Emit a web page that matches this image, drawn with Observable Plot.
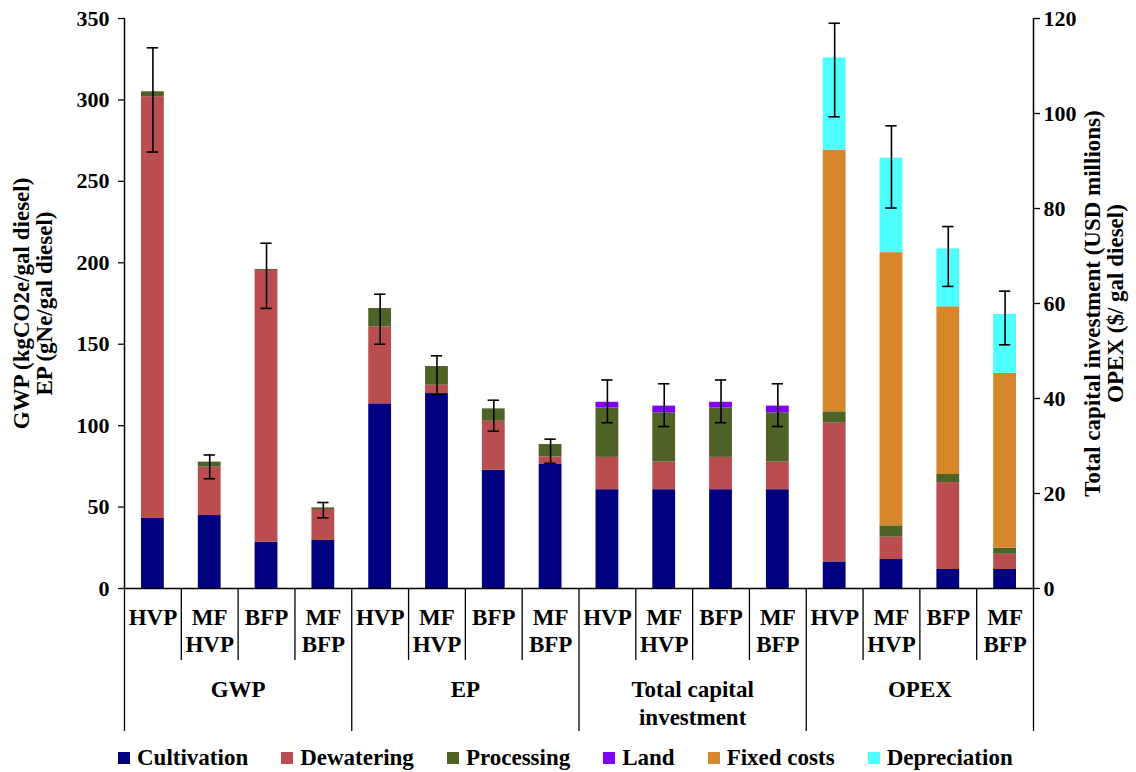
<!DOCTYPE html>
<html>
<head>
<meta charset="utf-8">
<script src="https://cdn.jsdelivr.net/npm/d3@7"></script>
<script src="https://cdn.jsdelivr.net/npm/@observablehq/plot@0.6"></script>
<style>
  html, body { margin: 0; padding: 0; background: #fff; }
  body { width: 1136px; height: 772px; overflow: hidden; font-family: "Liberation Serif", "Times New Roman", serif; }
  #legend { display: flex; align-items: center; gap: 33px; padding-left: 118px; margin-top: 5px; font-weight: bold; font-size: 23px; }
  #legend .item { display: flex; align-items: center; gap: 7px; }
  #legend .sw { width: 12px; height: 12px; display: inline-block; }
</style>
</head>
<body>
<div id="chart"></div>
<div id="legend"></div>
<script>
// Groups (first two read on the left axis, last two on the right axis)
const groups = ["GWP", "EP", "Total capital\ninvestment", "OPEX"];
const groupAxis = ["left", "left", "right", "right"];
const scenarios = ["HVP", "MF\nHVP", "BFP", "MF\nBFP"];

const seriesNames = ["Cultivation", "Dewatering", "Processing", "Land", "Fixed costs", "Depreciation"];
const seriesColors = ["#000080", "#BA4D4F", "#4F6228", "#8000FF", "#D6862B", "#4DFFFF"];

// Values per bar (16 bars: 4 groups x 4 scenarios), in each group's own axis units
const cultivation = [43, 44.8, 28.4, 29.5, 113.4, 119.7, 72.7, 76.5, 20.8, 20.8, 20.8, 20.8, 5.6, 6.1, 4.0, 4.0];
const dewatering  = [259, 29.7, 166.9, 19, 47.3, 5.1, 30, 4.3, 6.8, 5.8, 6.8, 5.8, 29.2, 4.7, 18.3, 3.2];
const processing  = [3, 3.1, 0.6, 1, 11.2, 11.5, 7.6, 7.6, 10.4, 10.4, 10.4, 10.4, 2.4, 2.4, 1.7, 1.3];
const land        = [0, 0, 0, 0, 0, 0, 0, 0, 1.2, 1.4, 1.2, 1.4, 0, 0, 0, 0];
const fixedCosts  = [0, 0, 0, 0, 0, 0, 0, 0, 0, 0, 0, 0, 55.1, 57.5, 35.3, 36.8];
const depreciation= [0, 0, 0, 0, 0, 0, 0, 0, 0, 0, 0, 0, 19.4, 19.9, 12.2, 12.4];

// Error bars (low, high)
const errLow  = [268, 67.4, 172, 43.4, 150, 118.9, 96.6, 76.9, 34.9, 34.1, 34.9, 34.1, 99.3, 80.1, 63.6, 51.3];
const errHigh = [332, 82, 212, 52.8, 180.7, 142.9, 115.6, 91.7, 43.9, 43.1, 43.9, 43.1, 119, 97.4, 76.2, 62.6];

const leftTicks = [0, 50, 100, 150, 200, 250, 300, 350];
const rightTicks = [0, 20, 40, 60, 80, 100, 120];

const leftTitle = "GWP (kgCO2e/gal diesel)\nEP (gNe/gal diesel)";
const rightTitle = "Total capital investment (USD millions)\nOPEX ($/ gal diesel)";

// ---- build tables ----
const k = leftTicks[leftTicks.length - 1] / rightTicks[rightTicks.length - 1];
const seriesValues = [cultivation, dewatering, processing, land, fixedCosts, depreciation];
const nBars = cultivation.length;
const factor = i => groupAxis[Math.floor(i / scenarios.length)] === "right" ? k : 1;

const segs = [];
for (let i = 0; i < nBars; i++) {
  let acc = 0;
  seriesNames.forEach((s, j) => {
    const v = seriesValues[j][i] * factor(i);
    if (v > 0) { segs.push({i, series: s, y1: acc, y2: acc + v}); acc += v; }
  });
}
const errs = d3.range(nBars).map(i => ({i, lo: errLow[i] * factor(i), hi: errHigh[i] * factor(i)}));
const catRows = d3.range(nBars).map(i => ({i, label: scenarios[i % scenarios.length]}));
const groupRows = groups.map((g, j) => ({x: j * scenarios.length + (scenarios.length - 1) / 2, label: g}));
const groupSeps = d3.range(groups.length + 1).map(j => j * scenarios.length - 0.5);
const catSeps = d3.range(nBars - 1).map(i => i + 0.5).filter(v => !groupSeps.includes(v));

const font = {fontFamily: "Liberation Serif", fontWeight: "bold"};

const chart = Plot.plot({
  width: 1136,
  height: 740,
  marginLeft: 124,
  marginRight: 103,
  marginTop: 18,
  marginBottom: 152,
  style: {fontFamily: "Liberation Serif", fontWeight: "bold", color: "#000", background: "#fff", overflow: "visible"},
  x: {type: "linear", domain: [-0.5, nBars - 0.5], axis: null},
  y: {domain: [leftTicks[0], leftTicks[leftTicks.length - 1]], axis: null},
  color: {domain: seriesNames, range: seriesColors},
  marks: [
    Plot.rect(segs, {x1: d => d.i - 0.5, x2: d => d.i + 0.5, y1: "y1", y2: "y2", fill: "series", insetLeft: 17, insetRight: 17}),
    Plot.ruleX(errs, {x: "i", y1: "lo", y2: "hi", stroke: "#000", strokeWidth: 1.6}),
    Plot.ruleY(errs, {y: "lo", x1: d => d.i - 0.1, x2: d => d.i + 0.1, stroke: "#000", strokeWidth: 1.6}),
    Plot.ruleY(errs, {y: "hi", x1: d => d.i - 0.1, x2: d => d.i + 0.1, stroke: "#000", strokeWidth: 1.6}),
    Plot.ruleY([leftTicks[0]], {stroke: "#000", strokeWidth: 1.5}),
    Plot.ruleX([groupSeps[0], groupSeps[groupSeps.length - 1]], {stroke: "#000", strokeWidth: 1.5}),
    Plot.axisX({ticks: groupSeps, tickSize: 143, tickFormat: () => "", strokeWidth: 1.3}),
    Plot.axisX({ticks: catSeps, tickSize: 72, tickFormat: () => "", strokeWidth: 1.3}),
    Plot.axisY({ticks: leftTicks, tickSize: 6, tickPadding: 9, fontSize: 22, label: null, strokeWidth: 1.3}),
    Plot.axisY({anchor: "right", ticks: rightTicks.map(v => v * k), tickFormat: d => String(Math.round(d / k)), tickSize: 6, tickPadding: 4, fontSize: 22, label: null, strokeWidth: 1.3}),
    Plot.text(catRows, {x: "i", text: "label", frameAnchor: "bottom", dy: 17, lineAnchor: "top", lineHeight: 1.17, fontSize: 23, ...font}),
    Plot.text(groupRows, {x: "x", text: "label", frameAnchor: "bottom", dy: 89, lineAnchor: "top", lineHeight: 1.2, fontSize: 23, ...font}),
    Plot.text([leftTitle], {text: d => d, frameAnchor: "left", textAnchor: "middle", rotate: -90, dx: -91, lineHeight: 1.0, fontSize: 23, ...font}),
    Plot.text([rightTitle], {text: d => d, frameAnchor: "right", textAnchor: "middle", dx: 71, rotate: -90, lineHeight: 1.0, fontSize: 23, ...font})
  ]
});
document.getElementById("chart").appendChild(chart);

const legend = document.getElementById("legend");
seriesNames.forEach((s, j) => {
  const item = document.createElement("div");
  item.className = "item";
  const sw = document.createElement("span");
  sw.className = "sw";
  sw.style.background = seriesColors[j];
  const t = document.createElement("span");
  t.textContent = s;
  item.appendChild(sw);
  item.appendChild(t);
  legend.appendChild(item);
});
</script>
</body>
</html>
